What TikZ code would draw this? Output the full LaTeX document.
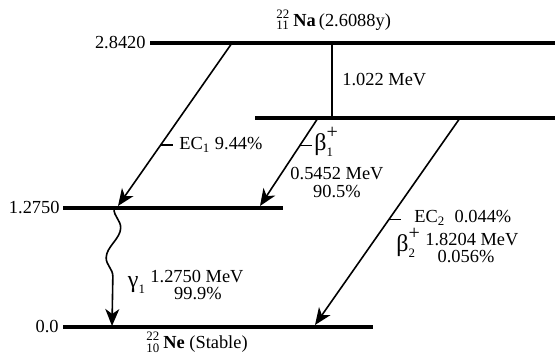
\documentclass[tikz,border=0pt]{standalone}
\usepackage{amsmath}
\usepackage{fontspec}
\setmainfont{Liberation Serif}
\usetikzlibrary{arrows.meta,decorations.pathmorphing}
\newcommand{\nucl}[3]{\ensuremath{{}^{\text{#1}}_{\text{#2}}}\,\textbf{#3}}
\newcommand{\bplus}[1]{\ensuremath{\text{\large β}^{\text{\normalsize +}}_{\text{#1}}}}

\tikzset{
  level/.style={line width=1.6pt},
  decay/.style={line width=0.8pt,-{Stealth[length=8.5pt,width=7pt,inset=2.5pt]}},
  gap/.style={line width=0.8pt},
  tick/.style={line width=0.7pt},
  txt/.style={inner sep=0pt,font=\fontsize{9.2}{11}\selectfont}
}

\begin{document}
\begin{tikzpicture}[x=0.5pt,y=-0.5pt]
\useasboundingbox (0,0) rectangle (555,356);
% levels
\coordinate (naL) at (150,43);  \coordinate (naR) at (555,43);
\coordinate (bpL) at (255,118); \coordinate (bpR) at (555,118);
\coordinate (exL) at (63,208);  \coordinate (exR) at (283,208);
\coordinate (gsL) at (63,327);  \coordinate (gsR) at (373,327);
\begin{scope}[level]
\draw (naL) -- (naR);
\draw (bpL) -- (bpR);
\draw (exL) -- (exR);
\draw (gsL) -- (gsR);
\end{scope}
\node[txt,anchor=east] (eNa) at (146,43) {2.8420};
\node[txt,anchor=east] (eEx) at (60,208) {1.2750};
\node[txt,anchor=east] (eGs) at (59,327) {0.0};
\node[txt,anchor=west] (na) at (276,20) {\nucl{22}{11}{Na}\,(2.6088y)};
\node[txt,anchor=west] (ne) at (146,342) {\nucl{22}{10}{Ne} (Stable)};

% 2 m_e c^2 gap
\coordinate (gapT) at (332,43); \coordinate (gapB) at (332,118);
\draw[gap] (gapT) -- (gapB);
\node[txt,anchor=west] (gapLbl) at (342,80) {1.022 MeV};

% transitions
\coordinate (ec1S) at (232,43);  \coordinate (ec1E) at (118,206);
\coordinate (b1S) at (318,118);  \coordinate (b1E) at (260,206);
\coordinate (ec2S) at (460,118); \coordinate (ec2E) at (315,325);
\coordinate (gS) at (114,209);   \coordinate (gE) at (112,326);
\draw[decay] (ec1S) -- coordinate[pos=0.626] (t1) (ec1E);
\draw[decay] (b1S) -- coordinate[pos=0.31] (t2) (b1E);
\draw[decay] (ec2S) -- coordinate[pos=0.49] (t3) (ec2E);
\draw[decay,decorate,decoration={snake,amplitude=3.5,segment length=30,post length=16}] (gS) -- (gE);
\begin{scope}[tick]
\draw (t1) -- ++(12,0);
\draw (t2) -- ++(12,0);
\draw (t3) -- ++(12,0);
\end{scope}

% labels
\node[txt,anchor=west] (ec1) at (179,145) {EC$_{\text{1}}$ 9.44\%};
\node[txt,anchor=west] (b1) at (314,142) {\bplus{1}};
\node[txt] (b1E1) at (337,174) {0.5452 MeV};
\node[txt] (b1I) at (337,192) {90.5\%};
\node[txt,anchor=west] (ec2) at (414,218) {EC$_{\text{2}}$\ \ 0.044\%};
\node[txt,anchor=west] (b2) at (396,243) {\bplus{2}};
\node[txt,anchor=west] (b2E) at (425,240) {1.8204 MeV};
\node[txt] (b2I) at (466,257) {0.056\%};
\node[txt] (g1) at (137,285) {\ensuremath{\text{\large γ}_{\text{1}}}};
\node[txt] (g1E) at (197,277) {1.2750 MeV};
\node[txt] (g1I) at (198,294) {99.9\%};
\end{tikzpicture}
\end{document}
